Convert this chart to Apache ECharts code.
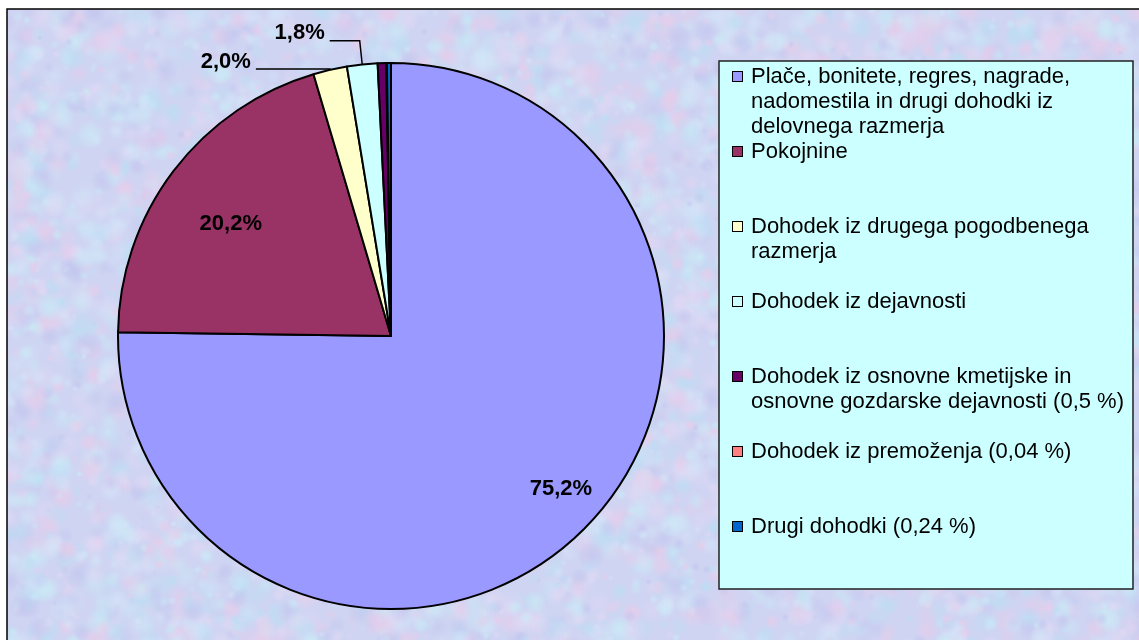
<!DOCTYPE html>
<html>
<head>
<meta charset="utf-8">
<script src="https://cdn.jsdelivr.net/npm/echarts@6/dist/echarts.min.js"></script>
<style>
html,body{margin:0;padding:0;background:#fff;}
#chart{width:1139px;height:640px;}
</style>
</head>
<body>
<div id="chart"></div>
<script>
const categories = [
  'Plače, bonitete, regres, nagrade,\nnadomestila in drugi dohodki iz\ndelovnega razmerja',
  'Pokojnine',
  'Dohodek iz drugega pogodbenega\nrazmerja',
  'Dohodek iz dejavnosti',
  'Dohodek iz osnovne kmetijske in\nosnovne gozdarske dejavnosti (0,5 %)',
  'Dohodek iz premoženja (0,04 %)',
  'Drugi dohodki (0,24 %)'
];
const values = [75.2, 20.2, 2.0, 1.8, 0.5, 0.04, 0.24];
const colors = ['#9999FF', '#993366', '#FFFFCC', '#CCFFFF', '#660066', '#FF8080', '#0066CC'];
const insideLabels = [0, 1];
const outsideLabels = [2, 3];

// decorative background texture (deterministic)
function makeTexture(w, h) {
  const c = document.createElement('canvas');
  c.width = w; c.height = h;
  const ctx = c.getContext('2d');
  ctx.fillStyle = 'rgb(206,212,242)';
  ctx.fillRect(0, 0, w, h);
  let s = 12345;
  const rnd = () => { s = (s * 1103515245 + 12345) % 2147483648; return s / 2147483648; };
  const tints = [[232, 204, 234], [188, 222, 244], [202, 234, 246], [196, 198, 238], [224, 216, 244], [212, 228, 248]];
  for (let k = 0; k < 9000; k++) {
    const x = rnd() * w, y = rnd() * h, r = 3 + rnd() * 12;
    const t = tints[Math.floor(rnd() * tints.length)];
    const g = ctx.createRadialGradient(x, y, 0, x, y, r);
    g.addColorStop(0, 'rgba(' + t[0] + ',' + t[1] + ',' + t[2] + ',0.5)');
    g.addColorStop(1, 'rgba(' + t[0] + ',' + t[1] + ',' + t[2] + ',0)');
    ctx.fillStyle = g;
    ctx.fillRect(x - r, y - r, 2 * r, 2 * r);
  }
  return c;
}

const chart = echarts.init(document.getElementById('chart'), null, { renderer: 'canvas' });

const rich = {
  g: { width: 9, height: 25, lineHeight: 25 },
  ind: { width: 18, height: 25, lineHeight: 25 },
  t: { fontSize: 22, fontFamily: '"Liberation Sans", Arial, sans-serif', color: '#000', lineHeight: 25, height: 25 }
};
colors.forEach((c, i) => {
  rich['s' + i] = { width: 9, height: 9, backgroundColor: c, borderColor: '#000', borderWidth: 1, lineHeight: 25 };
});

const data = values.map((v, i) => {
  const item = { name: categories[i], value: v, itemStyle: { color: colors[i] } };
  if (insideLabels.includes(i)) {
    item.label = { show: true, position: 'inside' };
  } else if (outsideLabels.includes(i)) {
    item.label = { show: true, position: 'outside' };
    item.labelLine = i === 2 ? { show: true, length: 1, length2: 74 } : { show: true, length: 24, length2: 30 };
  } else {
    item.label = { show: false };
    item.labelLine = { show: false };
  }
  return item;
});

const labelShift = { 0: [72, 54], 1: [-49, -28], 2: [0, -7], 3: [0, -8] };

chart.setOption({
  backgroundColor: '#fff',
  animation: false,
  graphic: [
    { type: 'image', z: -10, silent: true, style: { image: makeTexture(1139, 640), x: 7, y: 9, width: 1139, height: 640 } },
    { type: 'rect', z: -9, silent: true, shape: { x: 7, y: 9, width: 1200, height: 700 }, style: { fill: 'none', stroke: '#000', lineWidth: 1.5 } }
  ],
  legend: {
    orient: 'vertical',
    left: 719,
    top: 61,
    padding: [3, 9, 0, 9],
    itemGap: 0,
    itemWidth: 0,
    itemHeight: 0,
    icon: 'none',
    selectedMode: false,
    backgroundColor: '#CCFFFF',
    borderColor: '#222',
    borderWidth: 1.5,
    data: categories,
    textStyle: { width: 396, rich: rich },
    formatter: function (name) {
      const i = categories.indexOf(name);
      const lines = name.split('\n');
      let out = '{s' + i + '|}{g|}{t|' + lines[0] + '}';
      for (let k = 1; k < lines.length; k++) out += '\n{ind|}{t|' + lines[k] + '}';
      for (let k = lines.length; k < 3; k++) out += '\n{ind|}';
      return out;
    }
  },
  series: [{
    type: 'pie',
    center: [391, 336],
    radius: 273,
    startAngle: 90,
    clockwise: true,
    avoidLabelOverlap: false,
    emphasis: { disabled: true },
    itemStyle: { borderColor: '#000', borderWidth: 2 },
    label: {
      fontFamily: '"Liberation Sans", Arial, sans-serif',
      fontWeight: 'bold',
      fontSize: 22,
      color: '#000',
      distanceToLabelLine: 5,
      formatter: p => p.value.toFixed(1).replace('.', ',') + '%'
    },
    labelLine: { lineStyle: { color: '#000', width: 1.5 } },
    labelLayout: function (params) {
      const d = labelShift[params.dataIndex];
      return d ? { dx: d[0], dy: d[1] } : {};
    },
    data: data
  }]
});
</script>
</body>
</html>
